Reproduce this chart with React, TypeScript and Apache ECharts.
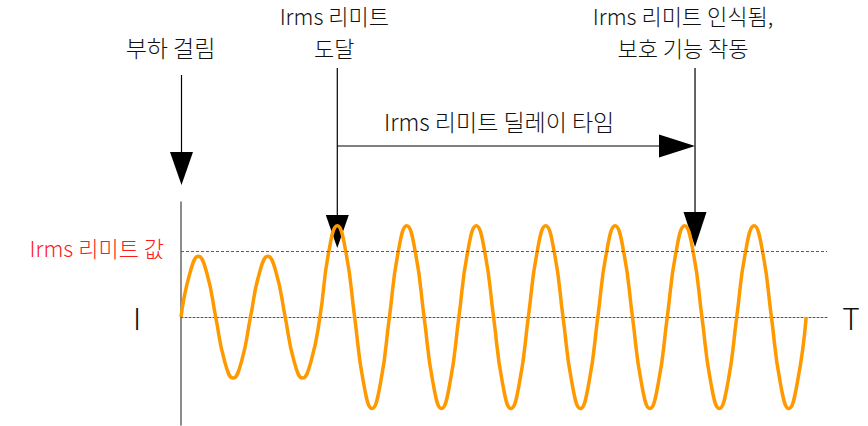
import { useEffect, useRef } from "react";
import * as echarts from "echarts";

// Time in ms (eighth-period steps of a 50 Hz current) and current in relative units
const timeMs = [
  0, 2.5, 5, 7.5, 10, 12.5, 15, 17.5,
  20, 22.5, 25, 27.5, 30, 32.5, 35, 37.5,
  40, 42.5, 45, 47.5, 50, 52.5, 55, 57.5,
  60, 62.5, 65, 67.5, 70, 72.5, 75, 77.5,
  80, 82.5, 85, 87.5, 90, 92.5, 95, 97.5,
  100, 102.5, 105, 107.5, 110, 112.5, 115, 117.5,
  120, 122.5, 125, 127.5, 130, 132.5, 135, 137.5,
  140, 142.5, 145, 147.5, 150, 152.5, 155, 157.5,
  160, 162.5, 165, 167.5, 170, 172.5, 175, 177.5,
  180,
];
const currentA = [
  0, 0.71, 1.0, 0.71, 0, -0.71, -1.0, -0.71,
  0, 0.71, 1.0, 0.71, 0, -0.71, -1.0, -0.71,
  0, 1.06, 1.5, 1.06, 0, -1.06, -1.5, -1.06,
  0, 1.06, 1.5, 1.06, 0, -1.06, -1.5, -1.06,
  0, 1.06, 1.5, 1.06, 0, -1.06, -1.5, -1.06,
  0, 1.06, 1.5, 1.06, 0, -1.06, -1.5, -1.06,
  0, 1.06, 1.5, 1.06, 0, -1.06, -1.5, -1.06,
  0, 1.06, 1.5, 1.06, 0, -1.06, -1.5, -1.06,
  0, 1.06, 1.5, 1.06, 0, -1.06, -1.5, -1.06,
  0,
];
const limitA = 1.08;
const eventTimesMs = [0, 45, 148];
const eventLabels = [["부하 걸림"], ["Irms 리미트", "도달"], ["Irms 리미트 인식됨,", "보호 기능 작동"]];
const delayLabel = "Irms 리미트 딜레이 타임";
const limitLabel = "Irms 리미트 값";
const yName = "I";
const xName = "T";

const FONT = '"Noto Sans CJK KR", "Noto Sans", sans-serif';

export default function App() {
  const ref = useRef<HTMLDivElement>(null);
  useEffect(() => {
    if (!ref.current) return;
    const chart = echarts.init(ref.current, null, { renderer: "svg" });
    chart.setOption({
      animation: false,
      grid: { left: 181, right: 41, top: 202, bottom: 1, outerBoundsMode: "none" },
      xAxis: {
        type: "value",
        min: 0,
        max: 186,
        axisLine: { onZero: true, lineStyle: { color: "#555", width: 1, type: [2, 2] } },
        axisTick: { show: false },
        axisLabel: { show: false },
        splitLine: { show: false },
      },
      yAxis: {
        type: "value",
        min: -1.77,
        max: 1.89,
        axisLine: { show: true, lineStyle: { color: "#666", width: 1.5 } },
        axisTick: { show: false },
        axisLabel: { show: false },
        splitLine: { show: false },
      },
      series: [
        {
          type: "line",
          data: timeMs.map((t, i) => [t, currentA[i]]),
          smooth: 0.5,
          showSymbol: false,
          lineStyle: { color: "#FF9900", width: 3.5 },
          z: 2,
          markLine: {
            silent: true,
            symbol: ["none", "none"],
            label: { show: false },
            lineStyle: { color: "#ff1a1a", width: 1, type: [3, 2] },
            data: [{ yAxis: limitA }],
          },
        },
      ],
    });

    const ax = (t: number) => chart.convertToPixel({ xAxisIndex: 0 }, t) as number;
    const ay = (v: number) => chart.convertToPixel({ yAxisIndex: 0 }, v) as number;
    const black = "#000";
    const arrowDown = (x: number, y0: number, y1: number, tipH: number, halfW: number) => [
      { type: "line", shape: { x1: x, y1: y0, x2: x, y2: y1 }, style: { stroke: black, lineWidth: 1.2 } },
      {
        type: "polygon",
        shape: { points: [[x - halfW, y1], [x + halfW, y1], [x, y1 + tipH]] },
        style: { fill: black },
      },
    ];
    const x0 = ax(eventTimesMs[0]) + 0.5;
    const x1 = ax(eventTimesMs[1]);
    const x2 = ax(eventTimesMs[2]);
    const zeroY = ay(0);
    const limY = ay(limitA);
    const txt = (text: string, x: number, y: number, size: number, fill = "#111", align = "center") => ({
      type: "text",
      style: {
        text,
        x,
        y,
        fill,
        fontSize: size,
        fontWeight: 300,
        fontFamily: FONT,
        align,
        verticalAlign: "middle",
      },
    });
    const lines = (ls: string[], x: number, yLast: number, size: number) =>
      ls.map((l, i) => txt(l, x, yLast - (ls.length - 1 - i) * 32, size));

    chart.setOption({
      graphic: [
        ...arrowDown(x0, 75, 152, 33, 11.5),
        ...arrowDown(x1, 68, 215, 33, 11.5),
        ...arrowDown(x2, 68, 212, 35, 11.5),
        { type: "line", shape: { x1: x1, y1: 146, x2: x2 - 35, y2: 146 }, style: { stroke: black, lineWidth: 1.2 } },
        {
          type: "polygon",
          shape: { points: [[x2 - 36, 134.5], [x2 - 36, 157.5], [x2, 146]] },
          style: { fill: black },
        },
        ...lines(eventLabels[0], x0 - 11, 47, 23),
        ...lines(eventLabels[1], x1 - 3, 47, 22),
        ...lines(eventLabels[2], x2 - 12, 47, 22),
        txt(delayLabel, (x1 + x2) / 2 - 17, 121, 23),
        txt(limitLabel, 164, limY - 4, 22, "#ff1a1a", "right"),
        txt(yName, 137, zeroY, 30),
        txt(xName, 851, zeroY, 30),
      ],
    });
    return () => chart.dispose();
  }, []);
  return (
    <div
      ref={ref}
      style={{ position: "fixed", left: 0, top: 0, width: 868, height: 426, background: "#fff" }}
    />
  );
}
